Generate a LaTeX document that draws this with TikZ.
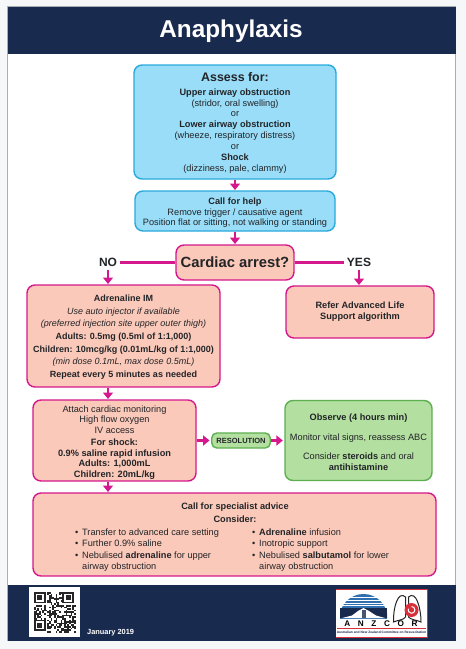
\documentclass[tikz,border=0pt]{standalone}
\usepackage{fontspec}
\setmainfont{Liberation Sans}
\usetikzlibrary{arrows.meta}
\definecolor{navy}{HTML}{192A4F}
\definecolor{pagebg}{HTML}{F6F7F9}
\definecolor{framegray}{HTML}{A9ADB5}
\definecolor{bluefill}{HTML}{99DDF8}
\definecolor{blueline}{HTML}{29A9DC}
\definecolor{pinkfill}{HTML}{FBC9B9}
\definecolor{pinkline}{HTML}{D5188C}
\definecolor{greenfill}{HTML}{B3DFA0}
\definecolor{greenline}{HTML}{5DAF50}
\definecolor{ink}{HTML}{222428}
\definecolor{logored}{HTML}{D8303A}
\definecolor{logoblue}{HTML}{2F6FB0}
\tikzset{
  box/.style={draw,rounded corners=8pt,line width=1.4pt,inner sep=0pt,align=center,text=ink,font=\fontsize{9.2}{10.9}\selectfont},
  bluebox/.style={box,fill=bluefill,draw=blueline},
  pinkbox/.style={box,fill=pinkfill,draw=pinkline},
  greenbox/.style={box,fill=greenfill,draw=greenline},
  decision/.style={font=\bfseries\fontsize{12}{14}\selectfont,text=ink,inner sep=3pt},
  link/.style={draw=pinkline,line width=2.2pt},
  arr/.style={link,-{Triangle[width=10pt,length=6.5pt]},shorten >=0.3pt},
  listtext/.style={inner sep=0pt,align=left,anchor=north west,text=ink,font=\fontsize{9.2}{11}\selectfont},
}
\newcommand{\bul}{\makebox[7pt][l]{•}}
\newcommand{\ind}{\hspace*{7pt}}
\begin{document}
\begin{tikzpicture}[x=1pt,y=-1pt]
\useasboundingbox (0,0) rectangle (466,649);
\fill[pagebg] (0,0) rectangle (466,649);
\draw[framegray,fill=white,line width=0.8pt] (7.5,6.5) rectangle (455.5,640.5);
\fill[navy] (7.5,7) rectangle (455.5,53.5);
\fill[navy] (7.5,584.5) rectangle (455.5,640.5);
\node[text=white,font=\bfseries\fontsize{24.3}{28}\selectfont,inner sep=0pt] (title) at (231,31) {Anaphylaxis};

\node[bluebox,minimum width=202pt,minimum height=114pt] (assess) at (235,122)
 {{\bfseries\fontsize{12.4}{14}\selectfont \rule{0pt}{11pt}Assess for:}\\[2.5pt]
  \textbf{Upper airway obstruction}\\(stridor, oral swelling)\\or\\
  \textbf{Lower airway obstruction}\\(wheeze, respiratory distress)\\or\\
  \textbf{Shock}\\(dizziness, pale, clammy)};
\node[bluebox,minimum width=200pt,minimum height=40pt] (help) at (235,211)
 {\rule{0pt}{10pt}\textbf{Call for help}\\Remove trigger / causative agent\\Position flat or sitting, not walking or standing};
\node[pinkbox,minimum width=118pt,minimum height=35pt,font=\bfseries\fontsize{14.8}{17}\selectfont] (arrest) at (235,262.5) {Cardiac arrest?};
\node[decision] (no) at (108,262.5) {NO};
\node[decision] (yes) at (359,262.5) {YES};
\node[pinkbox,minimum width=193pt,minimum height=102pt,font=\fontsize{9}{12.7}\selectfont] (adr) at (123.5,336)
 {\rule{0pt}{9pt}\textbf{Adrenaline IM}\\\textit{Use auto injector if available}\\\textit{(preferred injection site upper outer thigh)}\\
  \textbf{Adults: 0.5mg (0.5ml of 1:1,000)}\\\textbf{Children: 10mcg/kg (0.01mL/kg of 1:1,000)}\\
  \textit{(min dose 0.1mL, max dose 0.5mL)}\\\textbf{Repeat every 5 minutes as needed}};
\node[pinkbox,minimum width=148pt,minimum height=52pt] (refer) at (360,312)
 {\textbf{Refer Advanced Life}\\\textbf{Support algorithm}};
\node[pinkbox,minimum width=163pt,minimum height=81pt,font=\fontsize{9.2}{10.5}\selectfont] (attach) at (114.5,440.5)
 {\rule{0pt}{10pt}Attach cardiac monitoring\\High flow oxygen\\IV access\\[2pt]
  \textbf{For shock:}\\\textbf{0.9\% saline rapid infusion}\\\textbf{Adults: 1,000mL}\\\textbf{Children: 20mL/kg}};
\node[greenbox,minimum width=58.5pt,minimum height=15pt,rounded corners=5pt,font=\bfseries\fontsize{7.5}{9}\selectfont] (res) at (241,440.5) {RESOLUTION};
\node[greenbox,minimum width=147pt,minimum height=80pt] (observe) at (358.5,440.5)
 {\rule{0pt}{10pt}\textbf{Observe (4 hours min)}\\[8.5pt]Monitor vital signs, reassess ABC\\[8.5pt]
  Consider \textbf{steroids} and oral\\\textbf{antihistamine}};
\node[pinkbox,minimum width=403pt,minimum height=83pt] (special) at (234.5,534.5) {};
\node[inner sep=0pt,align=center,text=ink,font=\fontsize{9.2}{13}\selectfont] (spechead) at (235,512.5)
 {\textbf{Call for specialist advice}\\\textbf{Consider:}};
\node[listtext] (listl) at (75,528.3)
 {\bul Transfer to advanced care setting\\[0.6pt]\bul Further 0.9\% saline\\[0.6pt]
  \bul Nebulised \textbf{adrenaline} for upper\\\ind airway obstruction};
\node[listtext] (listr) at (252,528.3)
 {\bul \textbf{Adrenaline} infusion\\[0.6pt]\bul Inotropic support\\[0.6pt]
  \bul Nebulised \textbf{salbutamol} for lower\\\ind airway obstruction};

\draw[arr] (assess) -- (help);
\draw[arr] (help) -- (arrest);
\draw[link] (arrest) -- (no);
\draw[link] (arrest) -- (yes);
\draw[arr] (no.south) -- (no.south |- adr.north);
\draw[arr] (yes.south) -- (yes.south |- refer.north);
\draw[arr] (no.south |- adr.south) -- (no.south |- attach.north);
\draw[arr] (no.south |- attach.south) -- (no.south |- special.north);
\draw[arr,shorten >=1.5pt] (attach) -- (res);
\draw[arr,shorten >=1.5pt] (res) -- (observe);

% QR code
\fill[white] (29,587) rectangle (80,637);
\pgfmathsetseed{7}
\foreach \i in {0,...,24}{\foreach \j in {0,...,24}{
  \pgfmathrandominteger{\r}{0}{9}
  \ifnum\r<5
    \pgfmathtruncatemacro{\skip}{((\i<8)&&(\j<8))||((\i>16)&&(\j<8))||((\i<8)&&(\j>16))}
    \ifnum\skip=0
      \fill[black!85] ({34+\i*1.66},{592+\j*1.62}) rectangle ++(1.7,1.66);
    \fi
  \fi
}}
\foreach \ox/\oy in {34/592,62.2/592,34/619.5}{
  \fill[black!85] (\ox,\oy) rectangle ++(11.6,11.3);
  \fill[white] (\ox+1.7,\oy+1.7) rectangle ++(8.2,7.9);
  \fill[black!85] (\ox+3.3,\oy+3.3) rectangle ++(5,4.7);
}

\node[anchor=west,inner sep=0pt,text=white,font=\bfseries\fontsize{7.4}{9}\selectfont] (date) at (87,633) {January 2019};

% ANZCOR logo
\fill[white] (336,589) rectangle (427,637);
\draw[logored,line width=1pt] (336,589) -- (427,589) -- (427,637) -- (336,637);
\begin{scope}
 \clip (340,592) rectangle (387,618);
 \fill[logoblue] (363.5,618) circle[radius=24pt];
 \fill[navy] (340,608) rectangle (387,618);
 \foreach \yy in {597,600,603,605.5}{\draw[white,line width=0.8pt] (340,\yy) -- (387,\yy);}
 \fill[white] (342,618) -- (352,615.5) -- (358,611) -- (363.5,608) -- (369,611) -- (376,615.5) -- (385,618) -- cycle;
 \fill[navy!80] (361.5,610) rectangle (365.5,618);
\end{scope}
\draw[black!85,line width=1pt] (405.5,597) .. controls (398,590) and (393,608) .. (393.5,622) .. controls (398,620) and (404,620) .. (405.5,617) -- cycle;
\draw[black!85,line width=1pt] (408.5,597) .. controls (416,590) and (421,608) .. (421,622) .. controls (417,620) and (411,620) .. (408.5,617) -- cycle;
\fill[logored] (411.5,610) circle[radius=7pt];
\draw[white,line width=1pt] (411.5,606.5) arc[start angle=90,end angle=-200,radius=3.4pt];
\node[inner sep=0pt,font=\bfseries\fontsize{8.2}{9}\selectfont,text=black] (anzcor) at (381,624) {A\hspace{7.6pt}N\hspace{7.6pt}Z\hspace{7.6pt}C\hspace{7.6pt}O\hspace{7.6pt}R};
\draw[logored,line width=0.5pt] (337,628.7) -- (426,628.7);
\node[inner sep=0pt,font=\bfseries\fontsize{3.3}{4}\selectfont,text=navy] (anzname) at (381.5,632.5) {Australian and New Zealand Committee on Resuscitation};
\end{tikzpicture}
\end{document}
